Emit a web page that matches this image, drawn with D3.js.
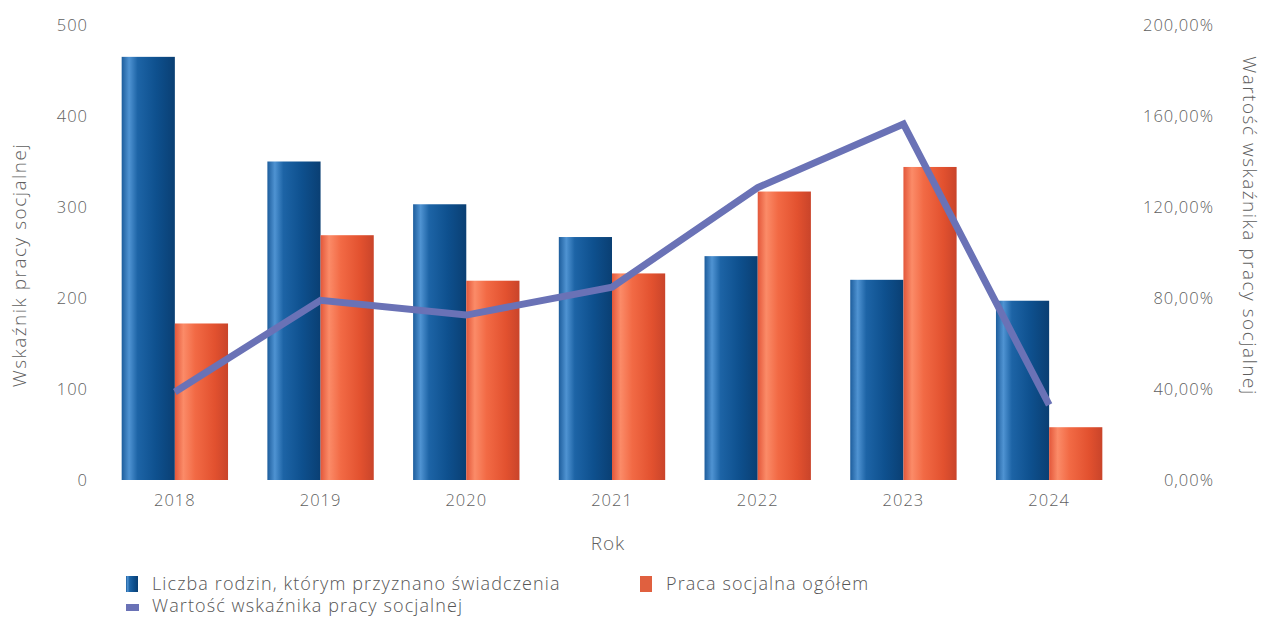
<!DOCTYPE html>
<html>
<head>
<meta charset="utf-8">
<script src="https://cdnjs.cloudflare.com/ajax/libs/d3/7.8.5/d3.min.js"></script>
<style>
  body { margin: 0; background: #fff; }
  text { font-family: "Open Sans", "DejaVu Sans", sans-serif; fill: #5f5f5f; font-weight: 300; }
</style>
</head>
<body>
<div id="chart"></div>
<script>
var years = ["2018", "2019", "2020", "2021", "2022", "2023", "2024"];
var rodziny = [465, 350, 303, 267, 246, 220, 197];
var praca = [172, 269, 219, 227, 317, 344, 58];
var wskaznik = [38.7, 79, 72.5, 84.8, 128.5, 156.5, 33];
var leftTicks = [0, 100, 200, 300, 400, 500];
var rightTicks = [0, 40, 80, 120, 160, 200];

var fullWidth = 1267;
var fullHeight = 622;
var margin = {top: 25, right: 145, bottom: 142, left: 102};
var width = fullWidth - margin.left - margin.right;
var height = fullHeight - margin.top - margin.bottom;

var svg = d3.select("#chart")
            .append("svg")
            .attr("width", fullWidth)
            .attr("height", fullHeight);

// cylinder-like shading for the bars
var defs = svg.append("defs");
function gradient(id, stops) {
    var gr = defs.append("linearGradient")
                 .attr("id", id)
                 .attr("x1", "0%").attr("x2", "100%")
                 .attr("y1", "0%").attr("y2", "0%");
    stops.forEach(function(s) {
        gr.append("stop").attr("offset", s[0]).attr("stop-color", s[1]);
    });
}
gradient("blueGrad", [["0%", "#1d5d9c"], ["14%", "#4f93d2"], ["30%", "#1d64a6"], ["65%", "#0e508e"], ["100%", "#0a3f73"]]);
gradient("orangeGrad", [["0%", "#e3573a"], ["16%", "#fb8b68"], ["38%", "#f26a45"], ["75%", "#e2512f"], ["100%", "#c9442a"]]);

var g = svg.append("g")
           .attr("transform", "translate(" + margin.left + "," + margin.top + ")");

var xScale = d3.scaleBand()
               .domain(years)
               .range([0, width])
               .paddingInner(0.27)
               .paddingOuter(0.135);

var xSub = d3.scaleBand()
             .domain(["rodziny", "praca"])
             .range([0, xScale.bandwidth()]);

var yLeft = d3.scaleLinear().domain([0, 500]).range([height, 0]);
var yRight = d3.scaleLinear().domain([0, 200]).range([height, 0]);

var rows = years.map(function(y, i) {
    return {year: y, rodziny: rodziny[i], praca: praca[i], wsk: wskaznik[i]};
});

var groups = g.append("g")
              .attr("class", "bars")
              .selectAll("g.year")
              .data(rows)
              .enter()
              .append("g")
              .attr("transform", function(d) { return "translate(" + xScale(d.year) + ",0)"; });

groups.append("rect")
      .attr("x", xSub("rodziny"))
      .attr("y", function(d) { return yLeft(d.rodziny); })
      .attr("width", xSub.bandwidth())
      .attr("height", function(d) { return height - yLeft(d.rodziny); })
      .attr("fill", "url(#blueGrad)");

groups.append("rect")
      .attr("x", xSub("praca"))
      .attr("y", function(d) { return yLeft(d.praca); })
      .attr("width", xSub.bandwidth())
      .attr("height", function(d) { return height - yLeft(d.praca); })
      .attr("fill", "url(#orangeGrad)");

var line = d3.line()
             .x(function(d) { return xScale(d.year) + xScale.bandwidth() / 2; })
             .y(function(d) { return yRight(d.wsk); });

g.append("path")
 .datum(rows)
 .attr("d", line)
 .attr("fill", "none")
 .attr("stroke", "#6a72b6")
 .attr("stroke-width", 7)
 .attr("stroke-linejoin", "miter");

// axes (no lines, labels only)
var xAxis = d3.axisBottom(xScale).tickSize(0).tickPadding(14);
var yAxisL = d3.axisLeft(yLeft).tickValues(leftTicks).tickSize(0).tickPadding(14);
var yAxisR = d3.axisRight(yRight).tickValues(rightTicks).tickSize(0)
               .tickFormat(function(d) { return d.toFixed(2).replace(".", ",") + "%"; });

function tickStyle(sel) {
    sel.style("font-size", "16.5px")
       .style("letter-spacing", "1px")
       .style("font-weight", "300")
       .style("fill", "#5f5f5f");
}

g.append("g")
 .attr("class", "x-axis")
 .attr("transform", "translate(0," + height + ")")
 .call(xAxis)
 .call(function(a) { a.select(".domain").remove(); })
 .selectAll("text")
 .call(tickStyle);

g.append("g")
 .attr("class", "y-axis")
 .call(yAxisL)
 .call(function(a) { a.select(".domain").remove(); })
 .selectAll("text")
 .call(tickStyle);

g.append("g")
 .attr("class", "y-axis-right")
 .attr("transform", "translate(" + (width + 92) + ",0)")
 .call(yAxisR)
 .call(function(a) { a.select(".domain").remove(); })
 .selectAll("text")
 .attr("x", 0)
 .style("text-anchor", "end")
 .call(tickStyle);

// titles
svg.append("text")
   .attr("transform", "translate(26," + 265 + ") rotate(-90)")
   .style("text-anchor", "middle")
   .style("font-size", "19px")
   .style("letter-spacing", "1.5px")
   .text("Wskaźnik pracy socjalnej");

svg.append("text")
   .attr("transform", "translate(1243," + 226 + ") rotate(90)")
   .style("text-anchor", "middle")
   .style("font-size", "19px")
   .style("letter-spacing", "1.5px")
   .text("Wartość wskaźnika pracy socjalnej");

svg.append("text")
   .attr("x", 608)
   .attr("y", 550)
   .style("text-anchor", "middle")
   .style("font-size", "19px")
   .style("letter-spacing", "1px")
   .text("Rok");

// legend
var legendItems = [
    {label: "Liczba rodzin, którym przyznano świadczenia", x: 126, y: 590, type: "rect", fill: "url(#blueGrad)"},
    {label: "Praca socjalna ogółem", x: 640, y: 590, type: "rect", fill: "#e0603f"},
    {label: "Wartość wskaźnika pracy socjalnej", x: 126, y: 612, type: "line", fill: "#6a72b6"}
];

var legend = svg.append("g").attr("class", "legend");
legendItems.forEach(function(it) {
    if (it.type === "rect") {
        legend.append("rect")
              .attr("x", it.x).attr("y", it.y - 14)
              .attr("width", 12).attr("height", 16)
              .attr("fill", it.fill);
    } else {
        legend.append("rect")
              .attr("x", it.x).attr("y", it.y - 8)
              .attr("width", 13).attr("height", 7)
              .attr("fill", it.fill);
    }
    legend.append("text")
          .attr("x", it.x + 26)
          .attr("y", it.y)
          .style("font-size", "18px")
          .style("letter-spacing", "1.1px")
          .style("fill", "#555")
          .text(it.label);
});
</script>
</body>
</html>
